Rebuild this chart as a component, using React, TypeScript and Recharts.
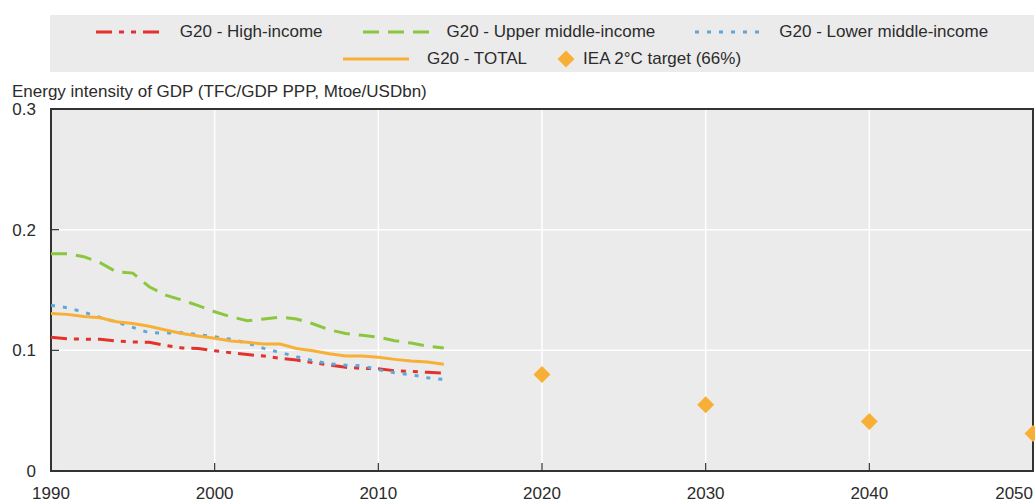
import {
  ComposedChart,
  Line,
  Scatter,
  XAxis,
  YAxis,
  CartesianGrid,
  ReferenceArea,
} from "recharts";

// Palette
const RED = "#e4322b";
const GREEN = "#8cc63f";
const BLUE = "#5ba7de";
const ORANGE = "#f7b035";
const PANEL = "#ebebeb";
const FRAME = "#333333";
const TEXT = "#2b2b2b";
const FONT = '"Liberation Sans", Arial, sans-serif';

const years = [
  1990, 1991, 1992, 1993, 1994, 1995, 1996, 1997, 1998, 1999, 2000, 2001, 2002,
  2003, 2004, 2005, 2006, 2007, 2008, 2009, 2010, 2011, 2012, 2013, 2014,
];

const highIncome = [
  0.1108, 0.1096, 0.1093, 0.1091, 0.1077, 0.107, 0.1066, 0.104, 0.102, 0.1016,
  0.0997, 0.098, 0.0965, 0.0953, 0.0933, 0.092, 0.0898, 0.0878, 0.0859, 0.0851,
  0.0848, 0.0831, 0.0826, 0.0818, 0.0812,
];

const upperMiddle = [
  0.18, 0.18, 0.1776, 0.1726, 0.165, 0.164, 0.1527, 0.1458, 0.1417, 0.137,
  0.132, 0.1278, 0.1245, 0.126, 0.1275, 0.126, 0.122, 0.117, 0.114, 0.1125,
  0.111, 0.108, 0.106, 0.1035, 0.102,
];

const lowerMiddle = [
  0.1373, 0.1353, 0.1317, 0.1273, 0.1234, 0.119, 0.1146, 0.1143, 0.1146, 0.113,
  0.1113, 0.1091, 0.106, 0.1016, 0.0983, 0.0947, 0.0914, 0.0889, 0.0877, 0.0871,
  0.0839, 0.0814, 0.0798, 0.0773, 0.0758,
];

const g20Total = [
  0.1306, 0.1298, 0.128, 0.127, 0.1237, 0.1223, 0.12, 0.1168, 0.114, 0.1118,
  0.11, 0.1077, 0.1066, 0.1052, 0.1052, 0.1016, 0.0997, 0.0972, 0.0953, 0.0953,
  0.0942, 0.0925, 0.0911, 0.0903, 0.0884,
];

const targetYears = [2020, 2030, 2040, 2050];
const targetValues = [0.08, 0.055, 0.041, 0.031];

const xTicks = [1990, 2000, 2010, 2020, 2030, 2040, 2050];
const yTicks = [0, 0.1, 0.2, 0.3];

const rows = years.map((year, i) => ({
  year,
  high: highIncome[i],
  upper: upperMiddle[i],
  lower: lowerMiddle[i],
  total: g20Total[i],
}));

const targets = targetYears.map((year, i) => ({ year, value: targetValues[i] }));

const series = [
  { key: "high", name: "G20 - High-income", color: RED, dash: "16 7 5 7 5 7" },
  { key: "upper", name: "G20 - Upper middle-income", color: GREEN, dash: "16 9" },
  { key: "lower", name: "G20 - Lower middle-income", color: BLUE, dash: "4 8" },
  { key: "total", name: "G20 - TOTAL", color: ORANGE, dash: undefined },
];
const targetName = "IEA 2\u00b0C target (66%)";

const Diamond = (props: any) => {
  const { cx, cy } = props;
  const r = 8.5;
  return (
    <polygon
      points={`${cx},${cy - r} ${cx + r},${cy} ${cx},${cy + r} ${cx - r},${cy}`}
      fill={ORANGE}
    />
  );
};

const XTick = (props: any) => {
  const { x, y, payload } = props;
  const last = payload.value === xTicks[xTicks.length - 1];
  return (
    <text
      x={x}
      y={y}
      dy="0.71em"
      textAnchor={last ? "end" : "middle"}
      fill={TEXT}
      fontSize={17}
      fontFamily={FONT}
    >
      {payload.value}
    </text>
  );
};

function LegendLine({ color, dash }: { color: string; dash?: string }) {
  return (
    <svg width={66} height={10} style={{ marginRight: 18 }}>
      <line x1={0} y1={5} x2={66} y2={5} stroke={color} strokeWidth={3} strokeDasharray={dash} />
    </svg>
  );
}

function ChartLegend() {
  const rowStyle: React.CSSProperties = {
    display: "flex",
    justifyContent: "center",
    alignItems: "center",
    gap: 40,
    height: 27,
  };
  const item: React.CSSProperties = { display: "flex", alignItems: "center" };
  return (
    <div
      style={{
        position: "absolute",
        left: 50,
        top: 15,
        width: 984,
        height: 57,
        paddingTop: 3,
        boxSizing: "border-box",
        background: PANEL,
        fontFamily: FONT,
        fontSize: 17,
        color: TEXT,
      }}
    >
      <div style={rowStyle}>
        {series.slice(0, 3).map((s) => (
          <span key={s.key} style={item}>
            <LegendLine color={s.color} dash={s.dash} />
            {s.name}
          </span>
        ))}
      </div>
      <div style={{ ...rowStyle, gap: 30 }}>
        <span style={item}>
          <LegendLine color={series[3].color} />
          {series[3].name}
        </span>
        <span style={item}>
          <svg width={18} height={18} style={{ marginRight: 8 }}>
            <polygon points="9,0.5 17.5,9 9,17.5 0.5,9" fill={ORANGE} />
          </svg>
          {targetName}
        </span>
      </div>
    </div>
  );
}

export default function App() {
  return (
    <div style={{ position: "absolute", left: 0, top: 0, width: 1035, height: 502 }}>
      <ComposedChart
        width={1035}
        height={502}
        data={rows}
        margin={{ top: 109, right: 2, bottom: 0, left: 1 }}
      >
        <CartesianGrid fill={PANEL} stroke="#ffffff" strokeWidth={1.5} />
        <XAxis
          dataKey="year"
          type="number"
          domain={[1990, 2050]}
          ticks={xTicks}
          interval={0}
          height={31}
          axisLine={false}
          tickSize={-8}
          tickMargin={24}
          tickLine={{ stroke: FRAME, strokeWidth: 1.2 }}
          tick={<XTick />}
        />
        <YAxis
          type="number"
          domain={[0, 0.3]}
          ticks={yTicks}
          interval={0}
          width={50}
          axisLine={false}
          tickSize={-8}
          tickMargin={23}
          tickLine={{ stroke: FRAME, strokeWidth: 1.2 }}
          tick={{ fill: TEXT, fontSize: 17, fontFamily: FONT }}
        />
        <ReferenceArea
          x1={1990}
          x2={2050}
          y1={0}
          y2={0.3}
          fill="none"
          fillOpacity={0}
          stroke={FRAME}
          strokeWidth={2}
        />
        {series.map((s) => (
          <Line
            key={s.key}
            dataKey={s.key}
            name={s.name}
            stroke={s.color}
            strokeWidth={3}
            strokeDasharray={s.dash}
            dot={false}
            activeDot={false}
            type="linear"
            isAnimationActive={false}
          />
        ))}
        <Scatter
          data={targets}
          dataKey="value"
          name={targetName}
          shape={<Diamond />}
          isAnimationActive={false}
        />
      </ComposedChart>
      <ChartLegend />
      <div
        style={{
          position: "absolute",
          left: 12,
          top: 83,
          fontFamily: FONT,
          fontSize: 17,
          lineHeight: "17px",
          color: TEXT,
          whiteSpace: "nowrap",
        }}
      >
        Energy intensity of GDP (TFC/GDP PPP, Mtoe/USDbn)
      </div>
    </div>
  );
}
